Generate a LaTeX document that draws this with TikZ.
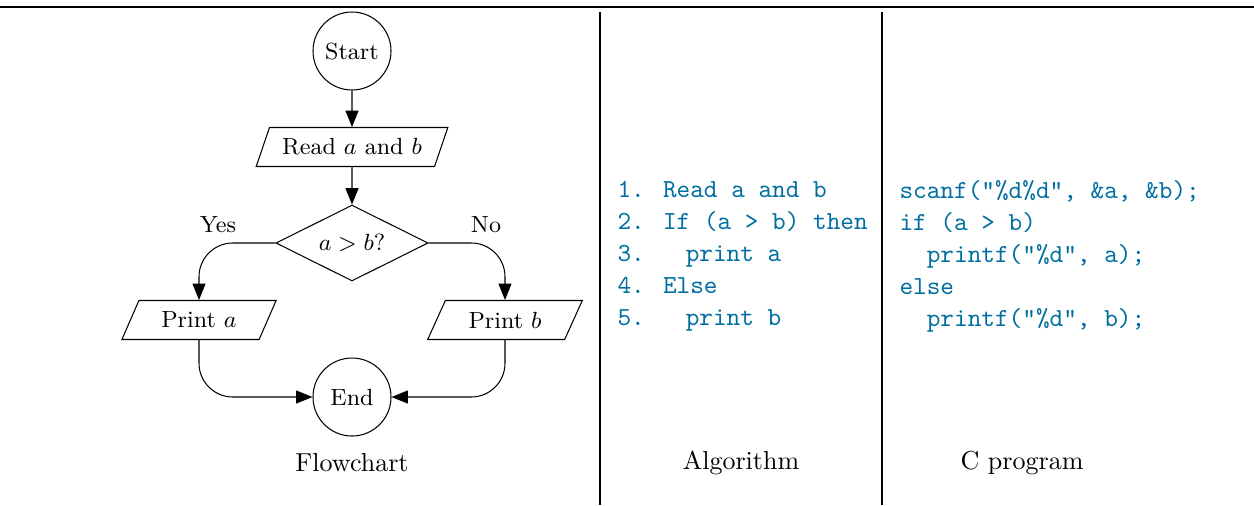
\documentclass[tikz,border=0pt]{standalone}
\usetikzlibrary{shapes.geometric,arrows.meta}
\definecolor{codecol}{RGB}{0,110,160}
\begin{document}
\begin{tikzpicture}[x=0.3846pt,y=-0.3846pt,
  every node/.style={font=\small},
  term/.style={draw,circle,minimum size=30pt,inner sep=0pt},
  io/.style={draw,trapezium,trapezium left angle=62,trapezium right angle=118,
    trapezium stretches=true,minimum height=15pt,inner sep=1pt},
  decision/.style={draw,diamond,aspect=2,minimum width=58.5pt,minimum height=29.2pt,inner sep=0pt},
  flow/.style={-{Triangle[length=6.3pt,width=5pt]}},
  caption/.style={font=\normalsize},
  code/.style={font=\fontsize{10pt}{12.3pt}\selectfont\ttfamily,text=codecol,
    align=left,anchor=west,inner sep=0pt}]
\useasboundingbox (0,0) rectangle (1254,505);
% rules
\draw[line width=0.8pt] (0,7) -- (1254,7);
\draw[line width=0.4pt] (600,12) -- (600,505);
\draw[line width=0.4pt] (882,12) -- (882,505);
% flowchart nodes
\node[term] (start) at (352,51) {Start};
\node[io,minimum width=74pt] (read) at (352,147) {Read $a$ and $b$};
\node[decision] (dec) at (352,243) {$a>b$?};
\node[io,minimum width=59.5pt] (pa) at (199,320) {Print $a$};
\node[io,minimum width=59.5pt] (pb) at (505,320) {Print $b$};
\node[term] (end) at (352,397) {End};
\node (yes) at (218,225) {Yes};
\node (no) at (486,225) {No};
% connectors
\draw[flow] (start) -- (read);
\draw[flow] (read) -- (dec);
\draw[flow,rounded corners=13pt] (dec.west) -| (pa.north);
\draw[flow,rounded corners=13pt] (dec.east) -| (pb.north);
\draw[flow,rounded corners=13pt] (pa.south) |- (end.west);
\draw[flow,rounded corners=13pt] (pb.south) |- (end.east);
% captions
\node[caption] (cap1) at (352,463) {Flowchart};
\node[caption] (cap2) at (741,463) {Algorithm};
\node[caption] (cap3) at (1022,463) {C program};
% code
\node[code] (alg) at (617,256) {1. Read a and b\\2. If (a > b) then\\3.~~~print a\\4. Else\\5.~~~print b};
\node[code] (cprog) at (899,256) {scanf("\%d\%d", \&a, \&b);\\if (a > b)\\~~printf("\%d", a);\\else\\~~printf("\%d", b);};
\end{tikzpicture}
\end{document}
